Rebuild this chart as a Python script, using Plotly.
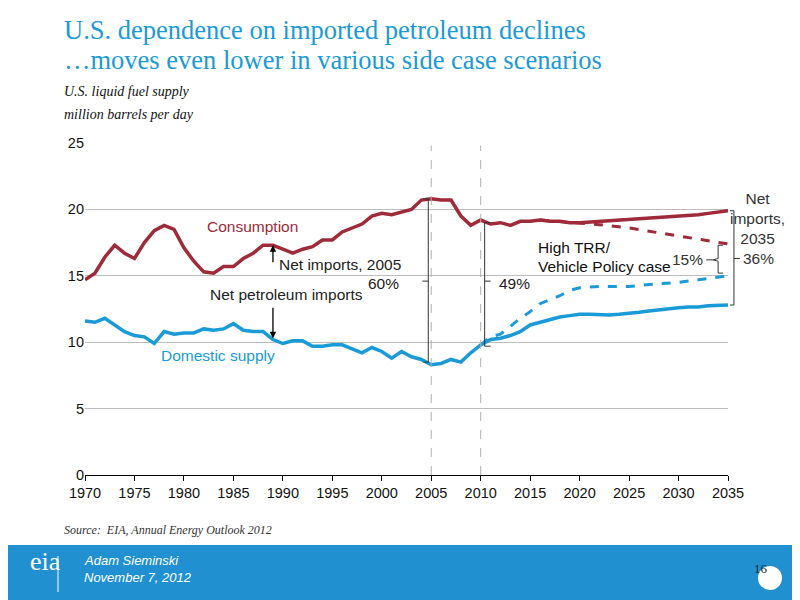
import plotly.graph_objects as go

# history + reference case, 1970-2035
years = list(range(1970, 2036))
consumption = [14.7, 15.2, 16.4, 17.3, 16.7, 16.3, 17.5, 18.4, 18.8, 18.5,
               17.1, 16.1, 15.3, 15.2, 15.7, 15.7, 16.3, 16.7, 17.3, 17.3,
               17.0, 16.7, 17.0, 17.2, 17.7, 17.7, 18.3, 18.6, 18.9, 19.5,
               19.7, 19.6, 19.8, 20.0, 20.7, 20.8, 20.7, 20.7, 19.5, 18.8,
               19.2, 18.9, 19.0, 18.8, 19.1, 19.1, 19.2, 19.1, 19.1, 19.0,
               19.0, 19.05, 19.1, 19.1, 19.15, 19.2, 19.25, 19.3, 19.35, 19.4,
               19.5, 19.55, 19.6, 19.7, 19.8, 19.9]
domestic = [11.6, 11.5, 11.8, 11.3, 10.8, 10.5, 10.4, 9.9, 10.8, 10.6,
            10.7, 10.7, 11.0, 10.9, 11.0, 11.4, 10.9, 10.8, 10.8, 10.2,
            9.9, 10.1, 10.1, 9.7, 9.7, 9.8, 9.8, 9.5, 9.2, 9.6,
            9.3, 8.8, 9.3, 8.9, 8.7, 8.3, 8.4, 8.7, 8.5, 9.2,
            9.8, 10.2, 10.3, 10.5, 10.8, 11.3, 11.5, 11.7, 11.9, 12.0,
            12.1, 12.1, 12.05, 12.05, 12.1, 12.15, 12.25, 12.35, 12.45, 12.5,
            12.6, 12.65, 12.65, 12.75, 12.8, 12.8]

# High TRR / Vehicle Policy side case
side_years = [2016, 2018, 2020, 2022, 2025, 2028, 2030, 2032, 2035]
side_consumption = [19.2, 19.1, 19.0, 18.85, 18.6, 18.25, 18.0, 17.75, 17.4]
side_years_d = [2010, 2011, 2012, 2013, 2014, 2015, 2016, 2017, 2018, 2019,
                2020, 2022, 2025, 2028, 2030, 2032, 2035]
side_domestic = [9.8, 10.4, 10.6, 11.2, 11.8, 12.3, 12.9, 13.2, 13.5, 13.9,
                 14.1, 14.2, 14.2, 14.4, 14.5, 14.7, 15.0]

RED = "#9e2a3a"
BLUE = "#1a9ad6"
PX0, PW, PY0, PH = 85, 643, 475, 332


def px(x):
    return (x - PX0) / PW


def py(y):
    return (PY0 - y) / PH


def yr(x):
    # year -> paper x, so marks right of the axis are not clipped
    return (x - 1970) / 65


fig = go.Figure()
fig.add_trace(go.Scatter(x=years, y=consumption, mode="lines",
                         line=dict(color=RED, width=3.5)))
fig.add_trace(go.Scatter(x=years, y=domestic, mode="lines",
                         line=dict(color=BLUE, width=3.5)))
fig.add_trace(go.Scatter(x=side_years, y=side_consumption, mode="lines",
                         line=dict(color=RED, width=3, dash="dash")))
fig.add_trace(go.Scatter(x=side_years_d, y=side_domestic, mode="lines",
                         line=dict(color=BLUE, width=3, dash="dash")))

shapes = []
# top band and footer
shapes.append(dict(type="rect", xref="paper", yref="paper", x0=px(-10), x1=px(810),
                   y0=py(8), y1=py(-10), fillcolor=BLUE, line_width=0, layer="below"))
shapes.append(dict(type="rect", xref="paper", yref="paper", x0=px(-10), x1=px(810),
                   y0=py(615), y1=py(545), fillcolor="#2190d0", line_width=0, layer="below"))
shapes.append(dict(type="line", xref="paper", yref="paper", x0=px(58), x1=px(58),
                   y0=py(592), y1=py(556), line=dict(color="white", width=1)))
shapes.append(dict(type="circle", xref="paper", yref="paper", x0=px(758), x1=px(782),
                   y0=py(590), y1=py(566), fillcolor="white", line_width=0))
# 2005 and 2010 markers
for y_ in (2005, 2010):
    shapes.append(dict(type="line", x0=y_, x1=y_, y0=0, y1=24.8,
                       line=dict(color="#b0b0b0", width=1, dash="dash")))
bk = dict(color="#333", width=1)
# 2005 bracket
shapes.append(dict(type="path", path="M 2004.2 20.8 L 2004.7 20.8 L 2004.7 8.5 L 2004.2 8.5", line=bk))
shapes.append(dict(type="line", x0=2004.7, x1=2004.1, y0=14.6, y1=14.6, line=bk))
# 2010 bracket
shapes.append(dict(type="path", path="M 2011 19.0 L 2010.4 19.0 L 2010.4 9.7 L 2011 9.7", line=bk))
shapes.append(dict(type="line", x0=2010.4, x1=2011, y0=14.6, y1=14.6, line=bk))
# 2035 bracket
p = lambda x: f"{yr(x):.5f}"
shapes.append(dict(type="path", xref="paper",
                   path=f"M {p(2035.2)} 19.9 L {p(2035.6)} 19.9 L {p(2035.6)} 12.8 L {p(2035.2)} 12.8", line=bk))
shapes.append(dict(type="line", xref="paper", x0=yr(2035.6), x1=yr(2036.2), y0=16.3, y1=16.3, line=bk))
# 15% bracket
shapes.append(dict(type="path", path="M 2034.5 17.3 L 2034.0 17.3 L 2034.0 16.3 L 2033.5 16.2 "
                   "L 2034.0 16.1 L 2034.0 15.2 L 2034.5 15.2", line=bk))
shapes.append(dict(type="line", x0=2033.5, x1=2032.8, y0=16.2, y1=16.2, line=bk))

ann = []
T = dict(family="Liberation Sans, Arial", size=15.5, color="#222")
ann.append(dict(x=1989, y=17.3, ax=1989, ay=15.9, xref="x", yref="y", axref="x", ayref="y",
                text="", showarrow=True, arrowhead=2, arrowsize=1, arrowwidth=1.3, arrowcolor="black"))
ann.append(dict(x=1989, y=10.3, ax=1989, ay=12.7, xref="x", yref="y", axref="x", ayref="y",
                text="", showarrow=True, arrowhead=2, arrowsize=1, arrowwidth=1.3, arrowcolor="black"))
for txt, x, y, c, xa in [
    ("History", 1990.2, 25.7, "#222", "center"),
    ("2005", 2004.8, 25.6, "#222", "center"),
    ("2010", 2010.0, 25.7, "#222", "center"),
    ("Projections", 2022.2, 25.7, "#222", "center"),
    ("Consumption", 1986.9, 18.7, RED, "center"),
    ("Domestic supply", 1983.4, 9.0, BLUE, "center"),
    ("Net imports, 2005", 1995.8, 15.85, "#222", "center"),
    ("60%", 2001.9, 14.4, "#222", "right"),
    ("Net petroleum imports", 1990.4, 13.6, "#222", "center"),
    ("49%", 2011.6, 14.4, "#222", "left"),
    ("High TRR/", 2015.6, 17.1, "#111", "left"),
    ("Vehicle Policy case", 2015.6, 15.7, "#111", "left"),
    ("15%", 2032.7, 16.2, "#333", "right"),
]:
    ann.append(dict(x=x, y=y, text=txt, showarrow=False, xanchor=xa,
                    font=dict(T, color=c), align="center"))
for txt, x, y, xa in [("36%", 2036.3, 16.3, "left"),
                      ("Net<br>imports,<br>2035", 2038.0, 19.3, "center")]:
    ann.append(dict(xref="paper", x=yr(x), y=y, text=txt, showarrow=False, xanchor=xa,
                    font=dict(T, color="#333"), align="center"))

SERIF = "Liberation Serif, Times New Roman"
for txt, x, y, sz, col, it in [
    ("U.S. dependence on imported petroleum declines", 62, 30, 26.5, BLUE, False),
    ("…moves even lower in various side case scenarios", 62, 60, 26.5, BLUE, False),
    ("U.S. liquid fuel supply", 62, 91, 14, "#111", True),
    ("million barrels per day", 62, 114, 14, "#111", True),
    ("Source:  EIA, Annual Energy Outlook 2012", 62, 530, 12, "#333", True),
]:
    ann.append(dict(xref="paper", yref="paper", x=px(x), y=py(y), text=f"<i>{txt}</i>" if it else txt,
                    showarrow=False, xanchor="left", yanchor="middle",
                    font=dict(family=SERIF, size=sz, color=col)))
ann.append(dict(xref="paper", yref="paper", x=px(82), y=py(570), text="<i>Adam Sieminski</i>",
                showarrow=False, xanchor="left", font=dict(family="Liberation Sans", size=13, color="white")))
ann.append(dict(xref="paper", yref="paper", x=px(82), y=py(587), text="<i>November 7, 2012</i>",
                showarrow=False, xanchor="left", font=dict(family="Liberation Sans", size=13, color="white")))
ann.append(dict(xref="paper", yref="paper", x=px(28), y=py(578), text="eia",
                showarrow=False, font=dict(family=SERIF, size=26, color="white")))
ann.append(dict(xref="paper", yref="paper", x=px(770), y=py(578), text="16",
                showarrow=False, font=dict(family=SERIF, size=13, color="#222")))

fig.update_layout(
    width=800, height=600, showlegend=False,
    margin=dict(l=77, r=80, t=135, b=133),
    paper_bgcolor="white", plot_bgcolor="white",
    shapes=shapes, annotations=ann,
    font=dict(family="Liberation Sans, Arial", size=14.5, color="#111"),
    xaxis=dict(range=[1970, 2035], tickvals=list(range(1970, 2036, 5)), showgrid=False,
               ticks="outside", ticklen=5, tickcolor="black", showline=True, linecolor="black",
               zeroline=False, tickfont=dict(size=14.5)),
    yaxis=dict(range=[0, 25], tickvals=[0, 5, 10, 15, 20, 25], showgrid=True,
               gridcolor="#bdbdbd", zeroline=False, showline=False, ticks="",
               tickfont=dict(size=14.5)),
)
fig.write_html("out.html")
